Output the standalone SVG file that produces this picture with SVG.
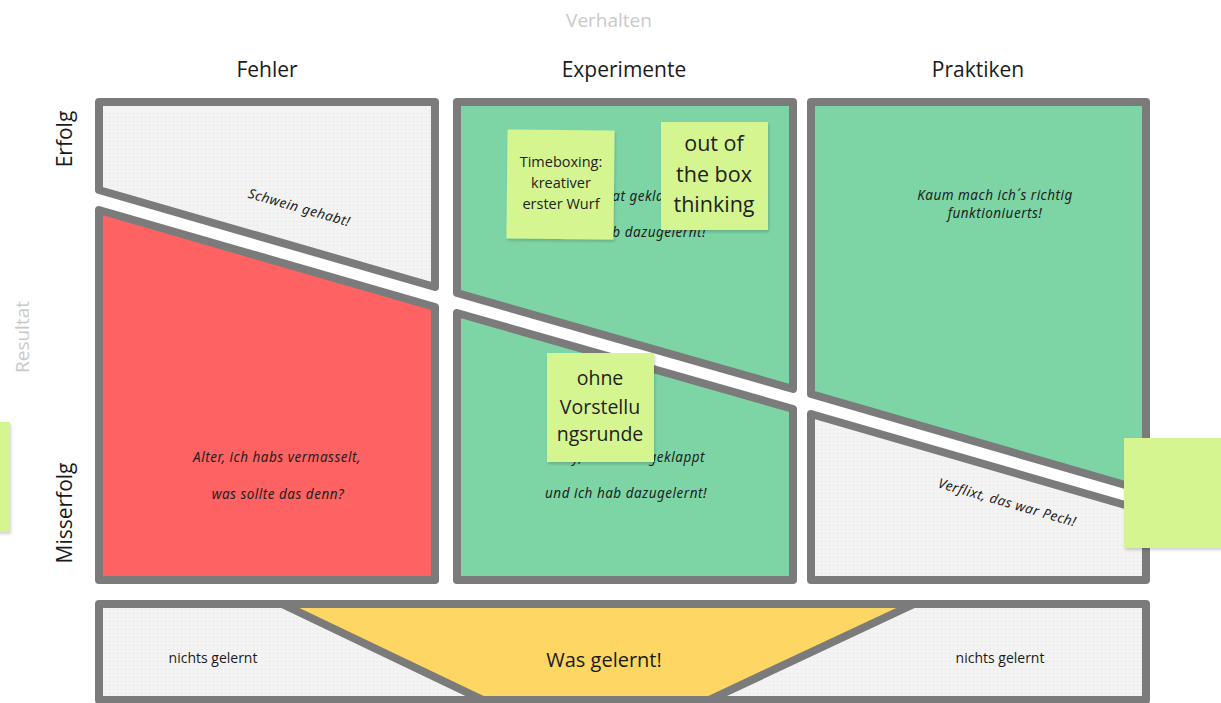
<svg xmlns="http://www.w3.org/2000/svg" width="1221" height="703" viewBox="0 0 1221 703">
  <defs>
    <pattern id="dots" width="4" height="4" patternUnits="userSpaceOnUse">
      <rect width="4" height="4" fill="#f3f3f3"/>
      <rect x="1" y="1" width="1" height="1" fill="#e4e4e4"/>
    </pattern>
    <filter id="shadow" x="-10%" y="-10%" width="130%" height="130%">
      <feDropShadow dx="1" dy="2" stdDeviation="1.5" flood-color="#000" flood-opacity="0.18"/>
    </filter>
  </defs>
  <style>
    .cell { stroke: #7b7b7b; stroke-width: 8; stroke-linejoin: round; }
    .gray { fill: url(#dots); }
    .green { fill: #7dd5a5; }
    .red { fill: #fe6262; }
    .yellow { fill: #fdd663; }
    .head { font-family: "Open Sans", "Noto Sans", sans-serif; font-size: 21px; fill: #1a1a1a; text-anchor: middle; }
    .axis { font-family: "Open Sans", "Noto Sans", sans-serif; font-size: 19px; fill: #c9c9c9; text-anchor: middle; }
    .hand { font-family: "Noto Sans", "DejaVu Sans", sans-serif; font-style: italic; font-size: 13.5px; fill: #1e1e1e; text-anchor: middle; letter-spacing: 0.5px; }
    .label { font-family: "Open Sans", "Noto Sans", sans-serif; fill: #1a1a1a; text-anchor: middle; }
    .note { fill: #d5f591; filter: url(#shadow); }
    .notetext { font-family: "Open Sans", "Noto Sans", sans-serif; fill: #222; text-anchor: middle; }
  </style>

  <!-- axis titles -->
  <text class="axis" x="609" y="27">Verhalten</text>
  <text class="axis" transform="translate(29 337) rotate(-90)">Resultat</text>

  <!-- column headings -->
  <text class="head" x="267" y="77">Fehler</text>
  <text class="head" x="624" y="77">Experimente</text>
  <text class="head" x="978" y="77">Praktiken</text>

  <!-- row headings -->
  <text class="head" transform="translate(72 139) rotate(-90)">Erfolg</text>
  <text class="head" transform="translate(72 513) rotate(-90)">Misserfolg</text>

  <!-- Fehler / Erfolg -->
  <g id="fehler-erfolg">
    <path class="cell gray" d="M99 102 H435 V287 L99 190 Z"/>
    <text class="hand" transform="translate(298 212) rotate(16)">Schwein gehabt!</text>
  </g>

  <!-- Fehler / Misserfolg -->
  <g id="fehler-misserfolg">
    <path class="cell red" d="M99 210 L435 307 V580 H99 Z"/>
    <text class="hand" x="277" y="462">Alter, ich habs vermasselt,</text>
    <text class="hand" x="278" y="499">was sollte das denn?</text>
  </g>

  <!-- Experimente / Erfolg -->
  <g id="experimente-erfolg">
    <path class="cell green" d="M457 102 H793 V389 L457 293 Z"/>
    <text class="hand" x="625" y="201">Okay, hat geklappt</text>
    <text class="hand" x="625" y="237">und ich hab dazugelernt!</text>
  </g>

  <!-- Experimente / Misserfolg -->
  <g id="experimente-misserfolg">
    <path class="cell green" d="M457 313 L793 409 V580 H457 Z"/>
    <text class="hand" x="626" y="462">Okay, hat nicht geklappt</text>
    <text class="hand" x="626" y="498">und ich hab dazugelernt!</text>
  </g>

  <!-- Praktiken / Erfolg -->
  <g id="praktiken-erfolg">
    <path class="cell green" d="M811 102 H1146 V491 L811 394 Z"/>
    <text class="hand" x="995" y="200">Kaum mach ich´s richtig</text>
    <text class="hand" x="995" y="218">funktioniuerts!</text>
  </g>

  <!-- Praktiken / Misserfolg -->
  <g id="praktiken-misserfolg">
    <path class="cell gray" d="M811 414 L1146 511 V580 H811 Z"/>
    <text class="hand" transform="translate(1006 507) rotate(16)">Verflixt, das war Pech!</text>
  </g>

  <!-- Lernen: bottom band -->
  <g id="lernen">
    <rect class="cell gray" x="99" y="604" width="1047" height="96"/>
    <path class="cell yellow" d="M282 604 H914 L709 700 H483 Z"/>
    <text class="label" x="213" y="663" font-size="14">nichts gelernt</text>
    <text class="label" x="604" y="667" font-size="20">Was gelernt!</text>
    <text class="label" x="1000" y="663" font-size="14">nichts gelernt</text>
  </g>

  <!-- sticky notes -->
  <g id="note-timeboxing">
    <rect class="note" x="507" y="130" width="107" height="109" transform="rotate(0.6 560 184)"/>
    <text class="notetext" font-size="14.5" x="561" y="167">Timeboxing:</text>
    <text class="notetext" font-size="14.5" x="561" y="188">kreativer</text>
    <text class="notetext" font-size="14.5" x="561" y="209">erster Wurf</text>
  </g>

  <g id="note-outofbox">
    <rect class="note" x="661" y="122" width="107" height="108"/>
    <text class="notetext" font-size="21.5" x="714" y="151">out of</text>
    <text class="notetext" font-size="21.5" x="714" y="182">the box</text>
    <text class="notetext" font-size="21.5" x="714" y="212">thinking</text>
  </g>

  <g id="note-vorstellung">
    <rect class="note" x="547" y="353" width="107" height="109"/>
    <text class="notetext" font-size="19.5" x="600" y="385">ohne</text>
    <text class="notetext" font-size="19.5" x="600" y="414">Vorstellu</text>
    <text class="notetext" font-size="19.5" x="600" y="441">ngsrunde</text>
  </g>

  <g id="note-right">
    <rect class="note" x="1124" y="438" width="110" height="110"/>
  </g>

  <g id="note-left">
    <rect class="note" x="-100" y="422" width="110" height="110"/>
  </g>

  <!-- no connectors in this board -->
  <g id="connectors"/>
</svg>
